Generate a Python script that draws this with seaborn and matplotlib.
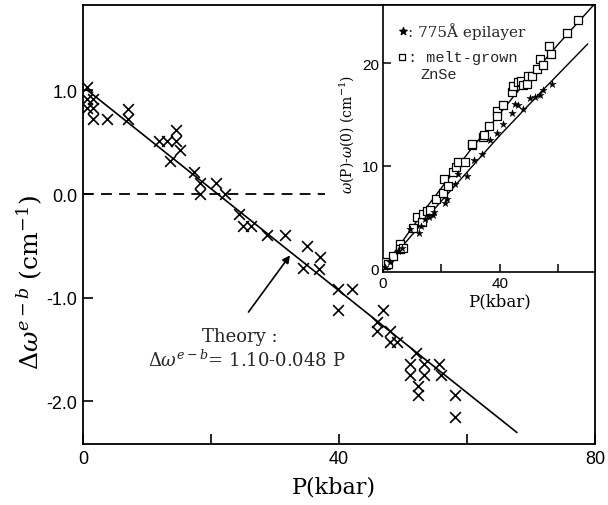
import matplotlib
matplotlib.use("Agg")
import matplotlib.pyplot as plt
import seaborn as sns
import pandas as pd

# ---------------- data ----------------
main_P = [0.6, 0.6, 1.6, 0.6, 1.6, 1.6, 3.7, 7.0, 7.0, 11.8, 13.2, 14.6, 14.6, 15.2, 13.6,
          17.4, 18.3, 20.8, 18.3, 22.2, 24.3, 25.0, 26.2, 28.7, 31.5, 35.0, 34.3, 37.0, 36.9,
          39.9, 42.0, 39.9, 46.9, 46.0, 46.0, 48.0, 48.0, 49.0, 52.1, 51.1, 51.1, 53.3, 53.3,
          52.4, 52.4, 55.7, 55.9, 58.1, 58.1]
main_v = [1.03, 0.92, 0.92, 0.83, 0.83, 0.72, 0.72, 0.82, 0.72, 0.51, 0.51, 0.51, 0.62, 0.42, 0.32,
          0.21, 0.11, 0.11, 0.0, 0.0, -0.19, -0.31, -0.31, -0.40, -0.40, -0.50, -0.71, -0.61, -0.72,
          -0.92, -0.92, -1.12, -1.12, -1.23, -1.32, -1.32, -1.43, -1.43, -1.53, -1.64, -1.75, -1.64, -1.75,
          -1.85, -1.94, -1.64, -1.75, -1.94, -2.15]
theory_P = [0.5, 67.8]
theory_v = [1.01, -2.30]
zero_P = [0.0, 37.8]
zero_v = [0.0, 0.0]

main_xticks = [0, 20, 40, 60, 80]
main_xticklabels = ["0", "", "40", "", "80"]
main_yticks = [1.0, 0.0, -1.0, -2.0]
main_yticklabels = ["1.0", "0.0", "-1.0", "-2.0"]

# inset
star_P = [0.7, 2.4, 5.2, 6.4, 9.2, 12.4, 12.9, 14.4, 15.9, 17.0, 17.5, 21.2, 21.8, 24.6, 25.8,
          28.6, 31.1, 33.7, 36.6, 38.9, 41.2, 44.0, 45.2, 46.3, 48.0, 50.3, 52.0, 53.7, 54.8, 57.7]
star_w = [0.1, 0.6, 1.7, 2.0, 3.85, 3.5, 4.1, 4.8, 5.0, 5.2, 5.5, 6.4, 6.8, 8.2, 9.2,
          9.0, 10.6, 11.2, 12.5, 13.2, 14.1, 15.2, 16.0, 15.9, 15.6, 16.6, 16.7, 16.9, 17.4, 18.0]
sq_P = [0.7, 1.0, 1.6, 3.5, 5.8, 5.8, 6.7, 10.4, 11.7, 13.2, 13.6, 14.9, 16.1, 18.1, 21.0, 20.6,
        22.3, 23.8, 25.0, 25.8, 28.1, 30.3, 30.6, 34.1, 34.5, 36.4, 38.9, 38.9, 41.2, 44.0, 44.3,
        46.0, 47.1, 47.8, 49.4, 49.7, 50.8, 52.8, 53.7, 54.8, 56.9, 57.3, 63.0, 66.8]
sq_w = [0.3, 0.6, 0.4, 1.25, 2.4, 1.9, 2.0, 4.0, 5.0, 4.5, 5.35, 5.6, 5.7, 6.8, 8.7, 7.4,
        8.0, 9.4, 9.9, 10.4, 10.4, 12.0, 12.1, 12.8, 13.0, 13.9, 15.4, 14.9, 15.9, 17.2, 17.8,
        18.2, 18.3, 17.9, 18.0, 18.75, 18.8, 19.5, 20.4, 19.8, 21.7, 20.9, 23.0, 24.2]
upper_P = [0, 15, 30, 45, 60, 73]
upper_w = [0, 6.0, 11.6, 16.9, 21.9, 26.0]
lower_P = [0, 20, 40, 55, 70]
lower_w = [0, 6.6, 13.0, 17.5, 21.9]

in_xticks = [0, 20, 40, 60]
in_xticklabels = ["0", "", "40", ""]
in_yticks = [0, 10, 20]
in_yticklabels = ["0", "10", "20"]

# ---------------- style ----------------
sns.set_theme(style="ticks")
plt.rcParams["font.family"] = ["Liberation Sans", "DejaVu Sans"]
plt.rcParams["mathtext.fontset"] = "dejavuserif"
plt.rcParams["axes.linewidth"] = 1.3
plt.rcParams["axes.edgecolor"] = "black"

SERIF = ["DejaVu Serif"]

fig = plt.figure(figsize=(6.08, 5.06), dpi=100)
W, H = 608, 506
L, R, T, B = 83, 595, 6, 445
ax = fig.add_axes([L / W, (H - B) / H, (R - L) / W, (B - T) / H])

main_df = pd.DataFrame({"P": main_P, "v": main_v})
sns.scatterplot(data=main_df, x="P", y="v", marker="x", color="black", s=60,
                linewidth=1.2, ax=ax, zorder=3)
sns.lineplot(x=theory_P, y=theory_v, color="black", lw=1.2, ax=ax)
ax.plot(zero_P, zero_v, color="black", lw=1.3, dashes=(6, 4))

ax.set_xlim(0, 80)
ax.set_ylim(-2.411, 1.823)
ax.set_xticks(main_xticks)
ax.set_xticklabels(main_xticklabels)
ax.set_yticks(main_yticks)
ax.set_yticklabels(main_yticklabels)
ax.tick_params(direction="in", length=7, width=1.2, labelsize=13, colors="black", pad=4)
for s in ax.spines.values():
    s.set_visible(True)

ax.set_xlabel("P(kbar)", fontsize=16, family=SERIF, color="black")
ax.xaxis.set_label_coords(0.49, -0.072)
ax.set_ylabel(r"$\Delta\omega^{e-b}$ (cm$^{-1}$)", fontsize=18, family=SERIF, color="black")
ax.yaxis.set_label_coords(-0.074, 0.37)

ax.annotate("", xy=(32.6, -0.57), xytext=(25.6, -1.16),
            arrowprops=dict(arrowstyle="-|>", color="black", lw=1.2, mutation_scale=11))
ax.text(24.5, -1.37, "Theory :", fontsize=13, family=SERIF, ha="center", va="center")
ax.text(25.6, -1.59, r"$\Delta\omega^{e-b}$= 1.10-0.048 P", fontsize=13, family=SERIF,
        ha="center", va="center")

# ---------------- inset ----------------
IL, IB = 383, 273
axi = fig.add_axes([IL / W, (H - IB) / H, (R - IL) / W, (IB - T) / H])
axi.set_facecolor("white")
sns.lineplot(x=upper_P, y=upper_w, color="black", lw=1.0, ax=axi)
sns.lineplot(x=lower_P, y=lower_w, color="black", lw=1.0, ax=axi)
sns.scatterplot(x=sq_P, y=sq_w, marker="s", facecolor="white", edgecolor="black",
                s=28, linewidth=0.9, ax=axi, zorder=3)
sns.scatterplot(x=star_P, y=star_w, marker="*", color="black", edgecolor="black",
                s=30, linewidth=0.3, ax=axi, zorder=4)
axi.set_xlim(0, 72.5)
axi.set_ylim(-0.34, 25.7)
axi.set_xticks(in_xticks)
axi.set_xticklabels(in_xticklabels)
axi.set_yticks(in_yticks)
axi.set_yticklabels(in_yticklabels)
axi.tick_params(direction="in", length=6, width=1.1, labelsize=11, colors="black", pad=3)
for s in axi.spines.values():
    s.set_visible(True)
    s.set_linewidth(1.2)
axi.set_xlabel("P(kbar)", fontsize=12, family=SERIF, color="black")
axi.xaxis.set_label_coords(0.55, -0.075)
axi.set_ylabel(r"$\omega$(P)-$\omega$(0) (cm$^{-1}$)", fontsize=10, family=SERIF, color="black")
axi.yaxis.set_label_coords(-0.125, 0.52)

# inset key
axi.scatter([0.094], [0.903], marker="*", s=30, color="black", transform=axi.transAxes)
axi.text(0.12, 0.903, ": 775Å epilayer", fontsize=11, family=SERIF, va="center",
         transform=axi.transAxes)
axi.scatter([0.088], [0.805], marker="s", s=24, facecolor="white", edgecolor="black",
            linewidth=0.9, transform=axi.transAxes)
axi.text(0.12, 0.805, ": melt-grown", fontsize=11, family=["Liberation Mono"], va="center",
         transform=axi.transAxes)
axi.text(0.175, 0.742, "ZnSe", fontsize=11, family=["Liberation Mono"], va="center",
         transform=axi.transAxes)

fig.savefig("out.png", dpi=100)
